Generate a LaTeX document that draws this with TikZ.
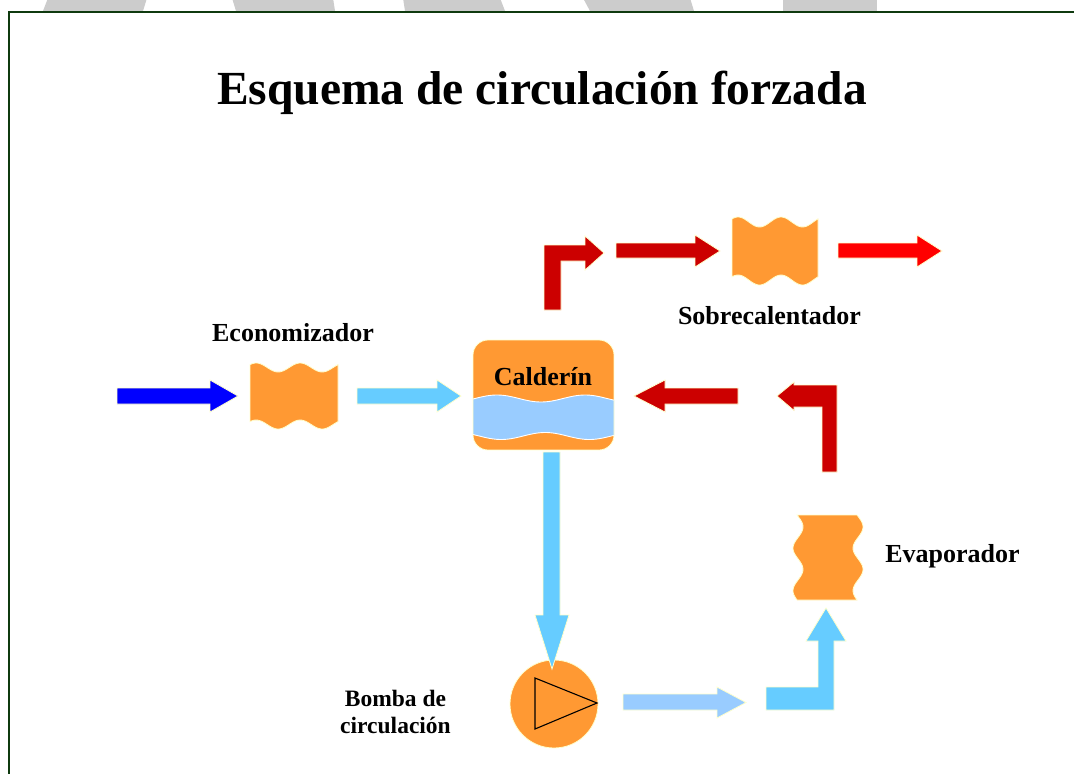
\documentclass[tikz,border=0pt]{standalone}
\usepackage{fontspec}
\setmainfont{Liberation Serif}
\definecolor{orangec}{HTML}{FF9933}
\definecolor{skyc}{HTML}{66CCFF}
\definecolor{palec}{HTML}{99CCFF}
\definecolor{darkred}{HTML}{CC0000}
\definecolor{brightred}{HTML}{FF0000}
\definecolor{bluec}{HTML}{0000FF}
\definecolor{glowc}{HTML}{FFFFCC}
\definecolor{framec}{HTML}{0F3A0F}
\definecolor{grayc}{HTML}{CCCCCC}
\begin{document}
\begin{tikzpicture}[x=1pt,y=-1pt]
\tikzset{
  glow/.style={draw=glowc, line width=0.8pt},
  orangefill/.style={fill=orangec, glow},
  lbl/.style={font=\bfseries\fontsize{26}{28}\selectfont, anchor=base, inner sep=0pt},
  smalllbl/.style={font=\bfseries\fontsize{23.5}{27}\selectfont, anchor=base, inner sep=0pt},
}
\useasboundingbox (0,0) rectangle (1074,774);
\fill[white] (0,0) rectangle (1074,774);

% gray letters at the top
\fill[grayc] (48,-2) -- (43,11) -- (143,11) -- (147,-2) -- cycle;
\fill[grayc] (232,-2) -- (236,11) -- (335,11) -- (333,-2) -- cycle;
\fill[grayc] (403,-2) -- (405,11) -- (505,11) -- (500,-2) -- cycle;
\fill[grayc] (583,-2) -- (590,11) -- (694,11) -- (690,-2) -- cycle;
\fill[grayc] (783,-2) -- (783,11) -- (877,11) -- (877,-2) -- cycle;

% frame
\draw[framec, line width=2.2pt] (8.8,11.8) rectangle (1090,800);

% title
\node[lbl, font=\bfseries\fontsize{47.5}{50}\selectfont] (title) at (542,104) {Esquema de circulación forzada};

% arrows: inlet
\path[fill=bluec, glow] (117,388)--(210,388)--(210,380)--(238,396)--(210,412)--(210,404)--(117,404)--cycle;
% economizer
\path[orangefill] plot[domain=250:338, samples=60, smooth] (\x, {367.5-4.5*cos(720*((\x-250)/88-0.07))})
  -- plot[domain=338:250, samples=60, smooth] (\x, {424.5-4.5*cos(720*((\x-250)/88-0.07))}) -- cycle;
\node[lbl] (econ) at (293,341) {Economizador};
\path[fill=skyc, glow] (357,388)--(437,388)--(437,380)--(461,396)--(437,412)--(437,404)--(357,404)--cycle;

% drum
\begin{scope}
\clip[rounded corners=15pt] (473,340) rectangle (614,450);
\fill[orangec] (473,340) rectangle (614,450);
\path[fill=palec, draw=white, line width=0.9pt]
  plot[domain=470:617, samples=60, smooth] (\x, {398.5-3.5*cos(576*((\x-473)/141-0.17))})
  -- plot[domain=617:470, samples=60, smooth] (\x, {436+3.5*cos(576*((\x-473)/141-0.2))}) -- cycle;
\end{scope}
\draw[glow, rounded corners=15pt] (473,340) rectangle (614,450);
\node[lbl] (cald) at (543,385) {Calderín};

% down arrow to pump
\node[circle, fill=orangec, draw=glowc, line width=0.8pt, minimum size=88pt, inner sep=0pt] (pump) at (554,704) {};
\draw[black, line width=1.1pt] (535,678)--(535,729)--(597,703)--cycle;
\path[fill=skyc, glow] (543,452)--(543,615)--(535,615)--(552,669)--(569,615)--(560,615)--(560,452)--cycle;
\node[smalllbl] (bomba1) at (395.5,706) {Bomba de};
\node[smalllbl] (bomba2) at (395.5,733) {circulación};

% pump to evaporator
\path[fill=palec, glow] (623,694)--(717,694)--(717,687)--(746,702.5)--(717,718)--(717,710)--(623,710)--cycle;
\path[fill=skyc, glow] (766,687)--(818,687)--(818,641)--(806,641)--(826,608)--(846,641)--(834,641)--(834,710)--(766,710)--cycle;

% evaporator
\path[orangefill] plot[domain=515:600, samples=60, smooth] ({798+5*cos(720*((\x-515)/85-0.14))}, \x)
  -- plot[domain=600:515, samples=60, smooth] ({858+5*cos(720*((\x-515)/85-0.14))}, \x) -- cycle;
\node[lbl] (evap) at (952.5,562) {Evaporador};

% evaporator back to drum
\path[fill=darkred, glow] (837,472)--(837,385)--(794,385)--(794,382)--(777,396)--(794,410.5)--(794,407)--(822,407)--(822,472)--cycle;
\path[fill=darkred, glow] (738,388)--(665,388)--(665,380)--(634,396)--(665,412)--(665,404)--(738,404)--cycle;

% drum to superheater
\path[fill=darkred, glow] (544,310)--(544,245)--(585,245)--(585,236)--(604,253)--(585,270)--(585,261)--(561,261)--(561,310)--cycle;
\path[fill=darkred, glow] (616,243)--(695,243)--(695,235)--(720,251)--(695,267)--(695,258)--(616,258)--cycle;
\path[orangefill] plot[domain=732:818, samples=60, smooth] (\x, {222-5*cos(720*((\x-732)/86-0.07))})
  -- plot[domain=818:732, samples=60, smooth] (\x, {280-5*cos(720*((\x-732)/86-0.07))}) -- cycle;
\node[lbl] (sobre) at (769.5,324) {Sobrecalentador};
\path[fill=brightred, glow] (838,243)--(917,243)--(917,235)--(942,251)--(917,267)--(917,258)--(838,258)--cycle;
\end{tikzpicture}
\end{document}
